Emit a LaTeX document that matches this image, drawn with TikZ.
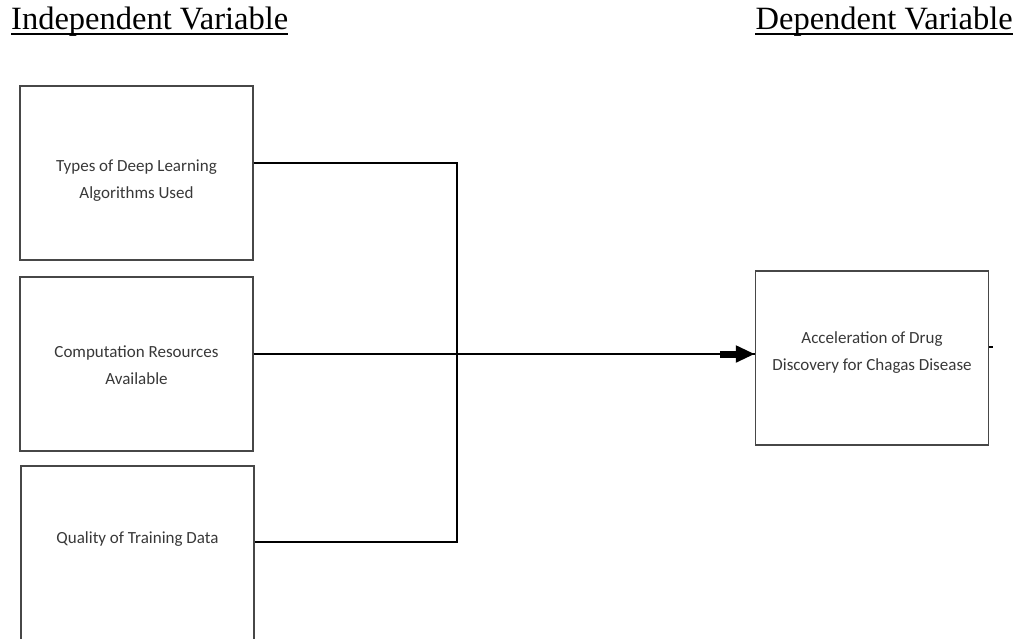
\documentclass[tikz,border=0pt]{standalone}
\usepackage{fontspec}
\setmainfont{Liberation Serif}
\newfontfamily\calfont{Carlito}
\usetikzlibrary{arrows.meta,calc,positioning}

\begin{document}
\begin{tikzpicture}[x=1pt,y=-1pt,
  head/.style={inner sep=0pt,font=\fontsize{32.5}{38}\selectfont},
  varbox/.style={draw=black!72,line width=1.3pt,minimum width=233pt,minimum height=174pt},
  boxtext/.style={align=center,text=black!78,font=\calfont\fontsize{17}{27}\selectfont},
  link/.style={line width=1.4pt}]
\useasboundingbox (0,0) rectangle (1019,638);
\node[head,anchor=base west] (indep) at (11,29) {Independent Variable};
\node[head,anchor=base east] (dep) at (1013,29) {Dependent Variable};
\draw[line width=2.5pt] ($(indep.base west)+(0,5)$) -- ($(indep.base east)+(0,5)$);
\draw[line width=2.5pt] ($(dep.base west)+(0,5)$) -- ($(dep.base east)+(0,5)$);
\node[varbox,label={[boxtext,yshift=-8pt]center:Types of Deep Learning\\Algorithms Used}] (algo) at (136.5,173) {};
\node[varbox,label={[boxtext,yshift=-1pt]center:Computation Resources\\Available}] (comp) at (136.5,364) {};
\node[varbox,label={[boxtext,yshift=14pt]center:Quality of Training Data}] (data) at (137.5,553) {};
\node[varbox,label={[boxtext,yshift=5pt]center:Acceleration of Drug\\Discovery for Chagas Disease}] (drug) at (872,358) {};
% bus on the left
\coordinate (bustop) at (457,163);
\coordinate (busbot) at (457,542);
\draw[link] (algo.east |- bustop) -- (bustop) -- (busbot) -- (data.east |- busbot);
% main arrow
\coordinate (feed) at ($(comp.east)+(0,-10)$);
\coordinate (tip) at (feed -| drug.west);
\draw[link] (feed) -- (tip);
\draw[line width=7pt,-{Triangle[length=19pt,width=16pt]}] ($(tip)+(-35,0)$) -- (tip);
\draw[line width=1.2pt] ($(drug.east)+(0,-11)$) -- ++(4,0);
\end{tikzpicture}
\end{document}
